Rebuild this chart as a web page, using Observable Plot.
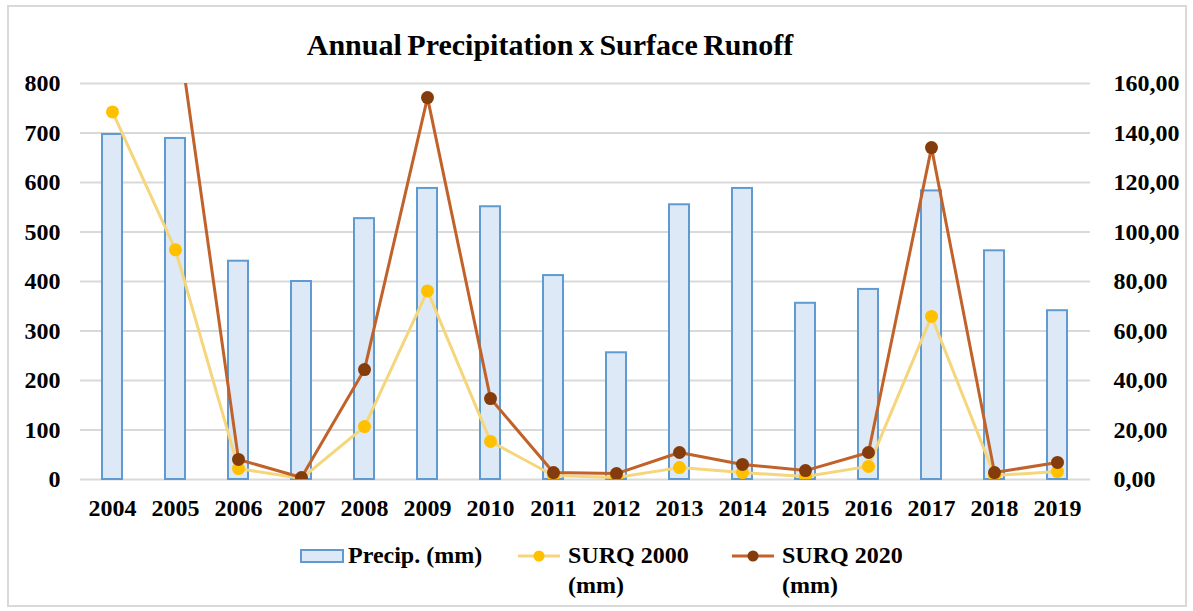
<!DOCTYPE html>
<html>
<head>
<meta charset="utf-8">
<script src="https://cdn.jsdelivr.net/npm/d3@7"></script>
<script src="https://cdn.jsdelivr.net/npm/@observablehq/plot@0.6"></script>
<style>
  body { margin: 0; background: #fff; font-family: "Liberation Serif", "Times New Roman", serif; font-weight: bold; color: #000; }
  #page { position: relative; width: 1193px; height: 611px; overflow: hidden; }
  #frame { position: absolute; left: 7px; top: 5px; width: 1176px; height: 598px; border: 2px solid #d9d9d9; }
  #title { position: absolute; left: 0; top: 30px; width: 1100px; text-align: center; font-size: 30px; line-height: 30px; word-spacing: -2px; }
  #chart { position: absolute; left: 0; top: 0; }
  .lg { position: absolute; font-size: 24px; line-height: 30px; white-space: nowrap; }
  .sw { position: absolute; }
</style>
</head>
<body>
<div id="page">
  <div id="frame"></div>
  <div id="chart"></div>
  <div id="title">Annual Precipitation x Surface Runoff</div>
  <div id="legend"></div>
</div>
<script>
// Years on the category axis
const years = ["2004","2005","2006","2007","2008","2009","2010","2011","2012","2013","2014","2015","2016","2017","2018","2019"];
// Annual precipitation (mm), left axis
const precip = [697, 689, 441, 400, 527, 588, 551, 412, 256, 555, 588, 356, 384, 583, 462, 341];
// Surface runoff (mm), right axis
const surq2000 = [148.5, 92.8, 4.4, 0.4, 21.4, 76.2, 15.4, 1.6, 0.8, 4.8, 2.8, 1.2, 5.3, 65.9, 1.6, 3.2];
const surq2020 = [null, 189, 8.1, 0.8, 44.4, 154.3, 32.7, 2.8, 2.4, 10.9, 6.1, 3.6, 10.9, 134.1, 2.8, 6.9];
// Axis ticks
const leftTicks = [0, 100, 200, 300, 400, 500, 600, 700, 800];
const rightTicks = [0, 20, 40, 60, 80, 100, 120, 140, 160];

// Right axis maps 0–160 onto the left axis 0–800
const ratio = 800 / 160;
const table = years.map((year, i) => ({year, precip: precip[i], s2000: surq2000[i], s2020: surq2020[i]}));
const fmt = v => v.toFixed(2).replace(".", ",");

const colors = {
  barFill: "#dde9f6", barStroke: "#5f9bd0",
  line2000: "#f5d67c", dot2000: "#ffc000",
  line2020: "#c0622a", dot2020: "#843c0c",
  grid: "#d9d9d9"
};

const chart = Plot.plot({
  width: 1193,
  height: 530,
  marginLeft: 80,
  marginRight: 103,
  marginTop: 83,
  marginBottom: 51,
  style: {fontFamily: "'Liberation Serif', 'Times New Roman', serif", fontWeight: "bold", fontSize: "24px", color: "#000", background: "transparent"},
  x: {type: "band", domain: years, paddingInner: 0.68, paddingOuter: 0.34},
  y: {domain: [0, 800]},
  marks: [
    Plot.ruleY(leftTicks, {stroke: colors.grid, strokeWidth: 2}),
    Plot.barY(table, {x: "year", y: "precip", fill: colors.barFill, stroke: colors.barStroke, strokeWidth: 2}),
    Plot.lineY(table, {x: "year", y: d => d.s2000 * ratio, stroke: colors.line2000, strokeWidth: 3, clip: true}),
    Plot.dot(table, {x: "year", y: d => d.s2000 * ratio, r: 6.5, fill: colors.dot2000, clip: true}),
    Plot.lineY(table, {x: "year", y: d => d.s2020 == null ? NaN : d.s2020 * ratio, stroke: colors.line2020, strokeWidth: 3, clip: true}),
    Plot.dot(table.filter(d => d.s2020 != null), {x: "year", y: d => d.s2020 * ratio, r: 6.5, fill: colors.dot2020, clip: true}),
    Plot.axisY({ticks: leftTicks, tickSize: 0, tickPadding: 20, fontSize: 24, label: null}),
    Plot.axisY({anchor: "right", ticks: rightTicks.map(v => v * ratio), tickFormat: v => fmt(v / ratio), tickSize: 0, tickPadding: 23, fontSize: 24, label: null}),
    Plot.axisX({tickSize: 0, tickPadding: 19, fontSize: 24, label: null})
  ]
});
document.getElementById("chart").append(chart);

// Legend below the plot
const legend = document.getElementById("legend");
const items = [
  {kind: "bar", x: 300, text: "Precip. (mm)", tx: 348},
  {kind: "line", x: 518, w: 42, line: colors.line2000, dot: colors.dot2000, text: "SURQ 2000<br>(mm)", tx: 568},
  {kind: "line", x: 732, w: 42, line: colors.line2020, dot: colors.dot2020, text: "SURQ 2020<br>(mm)", tx: 782}
];
for (const it of items) {
  const s = document.createElementNS("http://www.w3.org/2000/svg", "svg");
  s.setAttribute("class", "sw");
  if (it.kind === "bar") {
    s.setAttribute("width", 44); s.setAttribute("height", 14);
    s.style.left = it.x + "px"; s.style.top = "549px";
    s.innerHTML = `<rect x="1" y="1" width="42" height="12" fill="${colors.barFill}" stroke="${colors.barStroke}" stroke-width="2"/>`;
  } else {
    s.setAttribute("width", it.w); s.setAttribute("height", 14);
    s.style.left = it.x + "px"; s.style.top = "549px";
    s.innerHTML = `<line x1="0" x2="${it.w}" y1="7" y2="7" stroke="${it.line}" stroke-width="3"/><circle cx="${it.w / 2}" cy="7" r="5.5" fill="${it.dot}"/>`;
  }
  legend.append(s);
  const t = document.createElement("div");
  t.className = "lg";
  t.style.left = it.tx + "px";
  t.style.top = "540px";
  t.innerHTML = it.text;
  legend.append(t);
}
</script>
</body>
</html>
